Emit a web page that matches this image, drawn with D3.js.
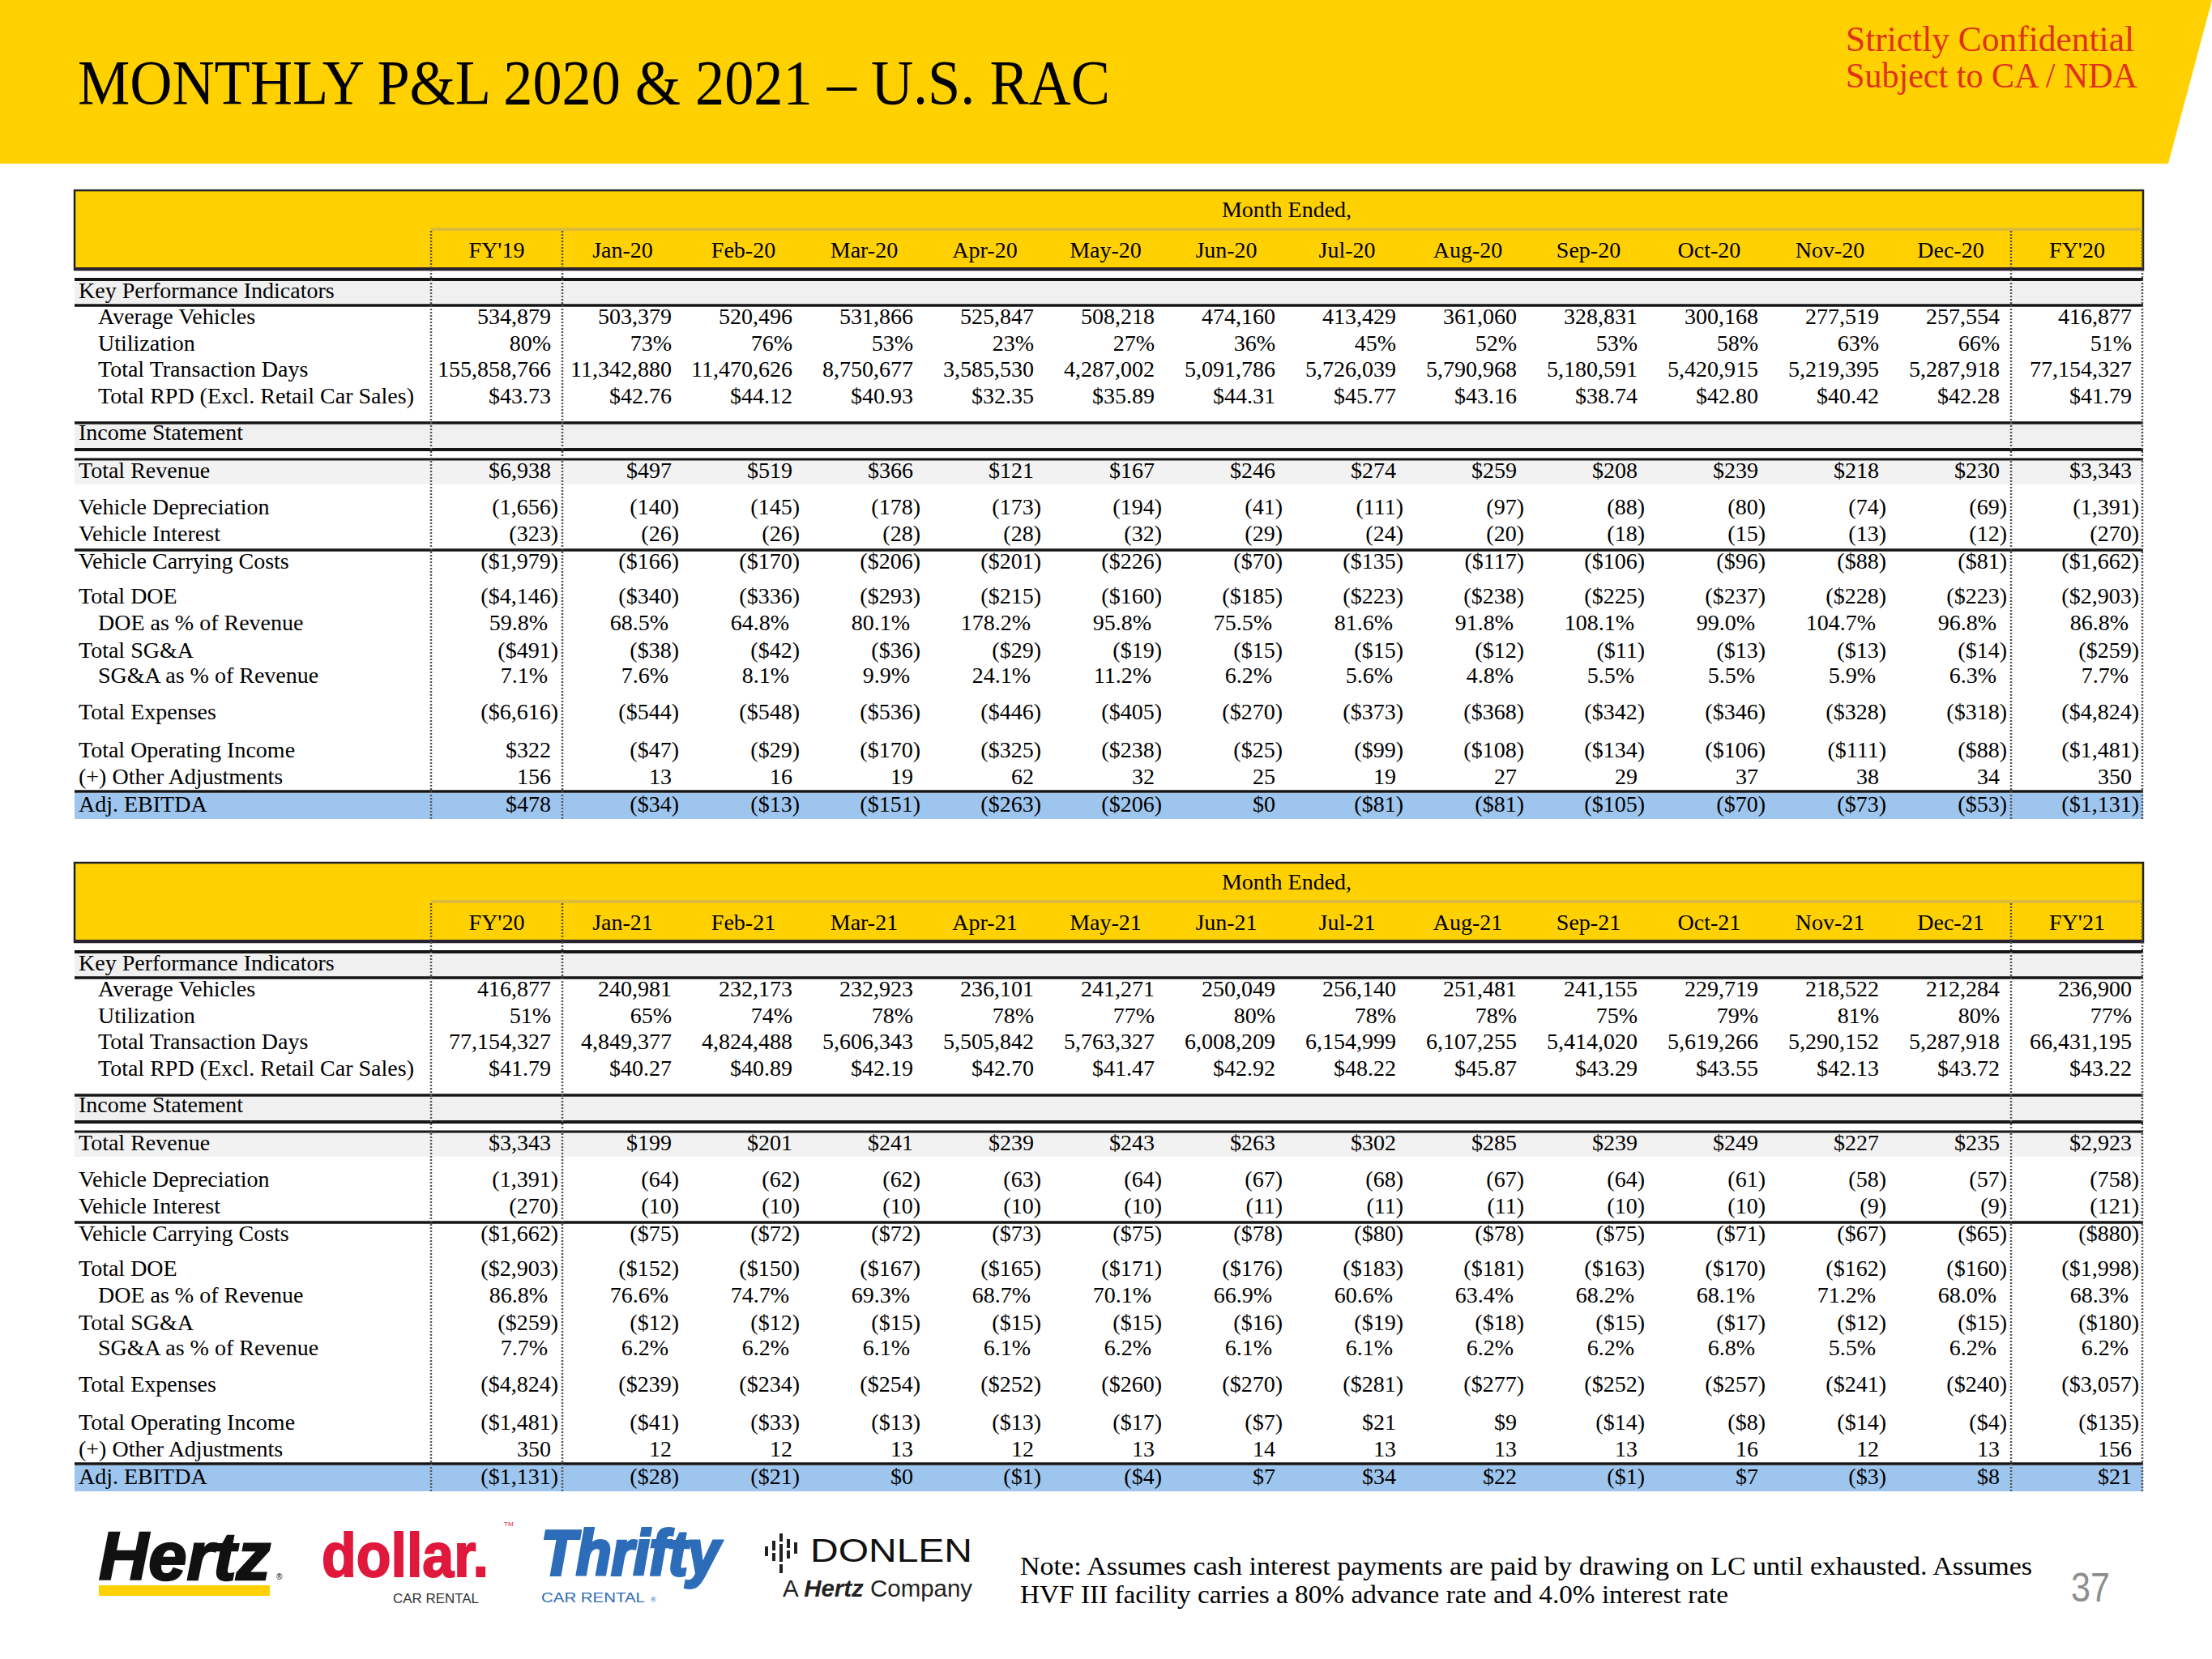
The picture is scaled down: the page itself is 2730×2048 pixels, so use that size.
<!DOCTYPE html>
<html><head><meta charset="utf-8">
<script src="https://cdn.jsdelivr.net/npm/d3@7/dist/d3.min.js"></script>
<style>html,body{margin:0;padding:0;background:#fff;}svg{display:block;}</style>
</head><body>
<script>
// ---------------- DATA ----------------
const months20 = ["Jan-20","Feb-20","Mar-20","Apr-20","May-20","Jun-20","Jul-20","Aug-20","Sep-20","Oct-20","Nov-20","Dec-20"];
const months21 = ["Jan-21","Feb-21","Mar-21","Apr-21","May-21","Jun-21","Jul-21","Aug-21","Sep-21","Oct-21","Nov-21","Dec-21"];
const fyCols20 = ["FY'19","FY'20"];
const fyCols21 = ["FY'20","FY'21"];

// 2020 block: FY'19, Jan-20 ... Dec-20, FY'20
const avgVeh20  = [534879,503379,520496,531866,525847,508218,474160,413429,361060,328831,300168,277519,257554,416877];
const util20    = [80,73,76,53,23,27,36,45,52,53,58,63,66,51];
const ttd20     = [155858766,11342880,11470626,8750677,3585530,4287002,5091786,5726039,5790968,5180591,5420915,5219395,5287918,77154327];
const rpd20     = [43.73,42.76,44.12,40.93,32.35,35.89,44.31,45.77,43.16,38.74,42.80,40.42,42.28,41.79];
const rev20     = [6938,497,519,366,121,167,246,274,259,208,239,218,230,3343];
const dep20     = [-1656,-140,-145,-178,-173,-194,-41,-111,-97,-88,-80,-74,-69,-1391];
const int20     = [-323,-26,-26,-28,-28,-32,-29,-24,-20,-18,-15,-13,-12,-270];
const vcc20     = [-1979,-166,-170,-206,-201,-226,-70,-135,-117,-106,-96,-88,-81,-1662];
const doe20     = [-4146,-340,-336,-293,-215,-160,-185,-223,-238,-225,-237,-228,-223,-2903];
const doePct20  = [59.8,68.5,64.8,80.1,178.2,95.8,75.5,81.6,91.8,108.1,99.0,104.7,96.8,86.8];
const sga20     = [-491,-38,-42,-36,-29,-19,-15,-15,-12,-11,-13,-13,-14,-259];
const sgaPct20  = [7.1,7.6,8.1,9.9,24.1,11.2,6.2,5.6,4.8,5.5,5.5,5.9,6.3,7.7];
const exp20     = [-6616,-544,-548,-536,-446,-405,-270,-373,-368,-342,-346,-328,-318,-4824];
const opInc20   = [322,-47,-29,-170,-325,-238,-25,-99,-108,-134,-106,-111,-88,-1481];
const otherAdj20= [156,13,16,19,62,32,25,19,27,29,37,38,34,350];
const ebitda20  = [478,-34,-13,-151,-263,-206,0,-81,-81,-105,-70,-73,-53,-1131];

// 2021 block: FY'20, Jan-21 ... Dec-21, FY'21
const avgVeh21  = [416877,240981,232173,232923,236101,241271,250049,256140,251481,241155,229719,218522,212284,236900];
const util21    = [51,65,74,78,78,77,80,78,78,75,79,81,80,77];
const ttd21     = [77154327,4849377,4824488,5606343,5505842,5763327,6008209,6154999,6107255,5414020,5619266,5290152,5287918,66431195];
const rpd21     = [41.79,40.27,40.89,42.19,42.70,41.47,42.92,48.22,45.87,43.29,43.55,42.13,43.72,43.22];
const rev21     = [3343,199,201,241,239,243,263,302,285,239,249,227,235,2923];
const dep21     = [-1391,-64,-62,-62,-63,-64,-67,-68,-67,-64,-61,-58,-57,-758];
const int21     = [-270,-10,-10,-10,-10,-10,-11,-11,-11,-10,-10,-9,-9,-121];
const vcc21     = [-1662,-75,-72,-72,-73,-75,-78,-80,-78,-75,-71,-67,-65,-880];
const doe21     = [-2903,-152,-150,-167,-165,-171,-176,-183,-181,-163,-170,-162,-160,-1998];
const doePct21  = [86.8,76.6,74.7,69.3,68.7,70.1,66.9,60.6,63.4,68.2,68.1,71.2,68.0,68.3];
const sga21     = [-259,-12,-12,-15,-15,-15,-16,-19,-18,-15,-17,-12,-15,-180];
const sgaPct21  = [7.7,6.2,6.2,6.1,6.1,6.2,6.1,6.1,6.2,6.2,6.8,5.5,6.2,6.2];
const exp21     = [-4824,-239,-234,-254,-252,-260,-270,-281,-277,-252,-257,-241,-240,-3057];
const opInc21   = [-1481,-41,-33,-13,-13,-17,-7,21,9,-14,-8,-14,-4,-135];
const otherAdj21= [350,12,12,13,12,13,14,13,13,13,16,12,13,156];
const ebitda21  = [-1131,-28,-21,0,-1,-4,7,34,22,-1,7,-3,8,21];

const rowLabels = ["Key Performance Indicators","Average Vehicles","Utilization","Total Transaction Days",
  "Total RPD (Excl. Retail Car Sales)","Income Statement","Total Revenue","Vehicle Depreciation","Vehicle Interest",
  "Vehicle Carrying Costs","Total DOE","DOE as % of Revenue","Total SG&A","SG&A as % of Revenue","Total Expenses",
  "Total Operating Income","(+) Other Adjustments","Adj. EBITDA"];

// ---------------- RENDER ----------------
const W = 2730, H = 2048;
const serif = "'Liberation Serif','Times New Roman',serif";
const sans = "'Liberation Sans',Arial,sans-serif";
const svg = d3.select("body").append("svg").attr("width", W).attr("height", H);
svg.append("rect").attr("width", W).attr("height", H).attr("fill", "#fff");

// banner
svg.append("path").attr("d", "M0,0H2730L2676,202H0Z").attr("fill", "#FFD100");
svg.append("text").attr("x", 96).attr("y", 128).attr("font-family", serif).attr("font-size", 78)
  .attr("textLength", 1274).attr("lengthAdjust", "spacingAndGlyphs").attr("fill", "#000")
  .text("MONTHLY P&L 2020 & 2021 \u2013 U.S. RAC");
svg.append("text").attr("x", 2278).attr("y", 63).attr("font-family", serif).attr("font-size", 44)
  .attr("textLength", 356).attr("lengthAdjust", "spacingAndGlyphs").attr("fill", "#E0301E").text("Strictly Confidential");
svg.append("text").attr("x", 2278).attr("y", 108).attr("font-family", serif).attr("font-size", 44)
  .attr("textLength", 360).attr("lengthAdjust", "spacingAndGlyphs").attr("fill", "#E0301E").text("Subject to CA / NDA");

// formats
const fInt = d3.format(",");
const fmtCount = v => fInt(v);
const fmtUtil = v => v + "%";
const fmtRpd = v => "$" + d3.format(".2f")(v);
const fmtMoney = v => v < 0 ? "($" + fInt(-v) + ")" : "$" + fInt(v);
const fmtParen = v => v < 0 ? "(" + fInt(-v) + ")" : fInt(v);
const fmtPct1 = v => d3.format(".1f")(v) + "%";

// table geometry
const X0 = 92, X1 = 2645, FYL = [532, 694], FYR = [2482, 2645];
const rowKeys = ["kpi","avgVeh","util","ttd","rpd","is","rev","dep","int","vcc","doe","doePct","sga","sgaPct","exp","opInc","other","ebitda"];
const yRow = d3.scaleOrdinal().domain(rowKeys)
  .range([133,165,198,230,263,308,355,400,433,467,510,543,577,608,653,700,733,767]);
const indentKeys = new Set(["avgVeh","util","ttd","rpd","doePct","sgaPct"]);

function drawTable(T, fyL, months, fyR, series) {
  const g = svg.append("g").attr("transform", `translate(0,${T})`);
  const xM = d3.scaleBand().domain(months).range([FYL[1], FYR[0]]);
  const cols = [fyL].concat(months).concat([fyR]);
  const colEdges = c => c === fyL ? FYL : c === fyR ? FYR : [xM(c), xM(c) + xM.bandwidth()];

  // header
  g.append("rect").attr("x", X0).attr("y", 0).attr("width", X1 - X0).attr("height", 98)
    .attr("fill", "#FFD100").attr("stroke", "#222").attr("stroke-width", 2.5);
  g.append("line").attr("x1", X0).attr("x2", X1).attr("y1", 97).attr("y2", 97).attr("stroke", "#2a2230").attr("stroke-width", 4);
  g.append("line").attr("x1", FYL[0]).attr("x2", X1 - 1).attr("y1", 48).attr("y2", 48).attr("stroke", "#DDBA3A").attr("stroke-width", 4);
  g.append("text").attr("x", (FYL[1] + FYR[0]) / 2).attr("y", 33).attr("text-anchor", "middle")
    .attr("font-family", serif).attr("font-size", 28).text("Month Ended,");
  g.selectAll("text.colhead").data(cols).join("text").attr("class", "colhead")
    .attr("x", c => d3.mean(colEdges(c))).attr("y", 83).attr("text-anchor", "middle")
    .attr("font-family", serif).attr("font-size", 28).text(c => c);

  // bands
  const bands = [[112, 141, "#F0F0F0"], [289, 318, "#F0F0F0"], [334, 363, "#F2F2F2"], [744, 776, "#9EC5EE"]];
  g.selectAll("rect.band").data(bands).join("rect").attr("class", "band")
    .attr("x", X0).attr("width", X1 - X0).attr("y", d => d[0]).attr("height", d => d[1] - d[0]).attr("fill", d => d[2]);

  // rules
  const rules = [[110, 4], [142, 3.5], [287, 3.5], [320, 4], [332, 3], [444, 3.5], [742, 3.5]];
  g.selectAll("line.rule").data(rules).join("line").attr("class", "rule")
    .attr("x1", X0).attr("x2", X1).attr("y1", d => d[0]).attr("y2", d => d[0])
    .attr("stroke", "#151515").attr("stroke-width", d => d[1]);

  // dotted verticals
  g.selectAll("line.vdot").data([FYL[0], FYL[1], FYR[0], FYR[1] - 1]).join("line").attr("class", "vdot")
    .attr("x1", d => d).attr("x2", d => d).attr("y1", 50).attr("y2", 776)
    .attr("stroke", "#555").attr("stroke-width", 2.5).attr("stroke-dasharray", "2,2");

  // labels
  g.selectAll("text.lbl").data(rowKeys).join("text").attr("class", "lbl")
    .attr("x", k => indentKeys.has(k) ? 121 : 97).attr("y", k => yRow(k))
    .attr("font-family", serif).attr("font-size", 28).text((k, i) => rowLabels[i]);

  // values
  series.forEach(s => {
    g.selectAll(null).data(s.values).join("text")
      .attr("x", (v, i) => {
        const right = colEdges(cols[i])[1];
        if (s.pct) return right - 18;
        return v < 0 && s.paren ? right - 5 : right - 14;
      })
      .attr("y", yRow(s.key)).attr("text-anchor", "end")
      .attr("font-family", serif).attr("font-size", 28).text(v => s.fmt(v));
  });
}

function seriesFor(d) {
  return [
    {key: "avgVeh", values: d.avgVeh, fmt: fmtCount},
    {key: "util", values: d.util, fmt: fmtUtil},
    {key: "ttd", values: d.ttd, fmt: fmtCount},
    {key: "rpd", values: d.rpd, fmt: fmtRpd},
    {key: "rev", values: d.rev, fmt: fmtMoney, paren: true},
    {key: "dep", values: d.dep, fmt: fmtParen, paren: true},
    {key: "int", values: d.int, fmt: fmtParen, paren: true},
    {key: "vcc", values: d.vcc, fmt: fmtMoney, paren: true},
    {key: "doe", values: d.doe, fmt: fmtMoney, paren: true},
    {key: "doePct", values: d.doePct, fmt: fmtPct1, pct: true},
    {key: "sga", values: d.sga, fmt: fmtMoney, paren: true},
    {key: "sgaPct", values: d.sgaPct, fmt: fmtPct1, pct: true},
    {key: "exp", values: d.exp, fmt: fmtMoney, paren: true},
    {key: "opInc", values: d.opInc, fmt: fmtMoney, paren: true},
    {key: "other", values: d.other, fmt: fmtParen, paren: true},
    {key: "ebitda", values: d.ebitda, fmt: fmtMoney, paren: true}
  ];
}

drawTable(235, fyCols20[0], months20, fyCols20[1], seriesFor({avgVeh: avgVeh20, util: util20, ttd: ttd20, rpd: rpd20,
  rev: rev20, dep: dep20, int: int20, vcc: vcc20, doe: doe20, doePct: doePct20, sga: sga20, sgaPct: sgaPct20,
  exp: exp20, opInc: opInc20, other: otherAdj20, ebitda: ebitda20}));
drawTable(1065, fyCols21[0], months21, fyCols21[1], seriesFor({avgVeh: avgVeh21, util: util21, ttd: ttd21, rpd: rpd21,
  rev: rev21, dep: dep21, int: int21, vcc: vcc21, doe: doe21, doePct: doePct21, sga: sga21, sgaPct: sgaPct21,
  exp: exp21, opInc: opInc21, other: otherAdj21, ebitda: ebitda21}));

// ---------------- LOGOS ----------------
const lg = svg.append("g");
lg.append("text").attr("x", 122).attr("y", 1950).attr("font-family", sans).attr("font-weight", "bold").attr("font-style", "italic")
  .attr("font-size", 84).attr("textLength", 212).attr("lengthAdjust", "spacingAndGlyphs")
  .attr("fill", "#111").attr("stroke", "#111").attr("stroke-width", 2.5).text("Hertz");
lg.append("text").attr("x", 341).attr("y", 1950).attr("font-family", sans).attr("font-size", 10).text("\u00AE");
lg.append("rect").attr("x", 122).attr("y", 1957).attr("width", 211).attr("height", 13).attr("fill", "#FFD100");

lg.append("text").attr("x", 397).attr("y", 1946).attr("font-family", sans).attr("font-weight", "bold")
  .attr("font-size", 76).attr("textLength", 206).attr("lengthAdjust", "spacingAndGlyphs")
  .attr("fill", "#E0183C").attr("stroke", "#E0183C").attr("stroke-width", 2).text("dollar.");
lg.append("text").attr("x", 622).attr("y", 1884).attr("font-family", sans).attr("font-size", 8).attr("fill", "#E0183C").text("TM");
lg.append("text").attr("x", 485).attr("y", 1979).attr("font-family", sans).attr("font-size", 16)
  .attr("textLength", 106).attr("lengthAdjust", "spacingAndGlyphs").attr("fill", "#333").text("CAR RENTAL");

lg.append("text").attr("x", 668).attr("y", 1944).attr("font-family", sans).attr("font-weight", "bold").attr("font-style", "italic")
  .attr("font-size", 78).attr("textLength", 220).attr("lengthAdjust", "spacingAndGlyphs")
  .attr("fill", "#2C6CB8").attr("stroke", "#2C6CB8").attr("stroke-width", 4).text("Thrifty");
lg.append("text").attr("x", 668).attr("y", 1978).attr("font-family", sans).attr("font-size", 17)
  .attr("textLength", 128).attr("lengthAdjust", "spacingAndGlyphs").attr("fill", "#2C6CB8").text("CAR RENTAL");
lg.append("text").attr("x", 803).attr("y", 1978).attr("font-family", sans).attr("font-size", 9).attr("fill", "#2C6CB8").text("\u00AE");

// Donlen icon
const dbars = [[944,1909,1921],[953,1902,1914],[953,1917,1927],[962,1893,1903],[962,1906,1928],[962,1931,1942],
  [971,1900,1911],[971,1914,1924],[980,1904,1918]];
lg.selectAll("rect.dbar").data(dbars).join("rect").attr("class", "dbar")
  .attr("x", d => d[0]).attr("y", d => d[1]).attr("width", 4).attr("height", d => d[2] - d[1]).attr("fill", "#222");
lg.append("text").attr("x", 1000).attr("y", 1928).attr("font-family", sans).attr("font-size", 40)
  .attr("textLength", 200).attr("lengthAdjust", "spacingAndGlyphs").attr("fill", "#111").text("DONLEN");
const ahc = lg.append("text").attr("x", 966).attr("y", 1971).attr("font-family", sans).attr("font-size", 29)
  .attr("textLength", 234).attr("lengthAdjust", "spacingAndGlyphs").attr("fill", "#222");
ahc.append("tspan").text("A ");
ahc.append("tspan").attr("font-weight", "bold").attr("font-style", "italic").text("Hertz");
ahc.append("tspan").text(" Company");

// note & page number
svg.append("text").attr("x", 1259).attr("y", 1944).attr("font-family", serif).attr("font-size", 31)
  .attr("textLength", 1249).attr("lengthAdjust", "spacingAndGlyphs")
  .text("Note: Assumes cash interest payments are paid by drawing on LC until exhausted. Assumes");
svg.append("text").attr("x", 1259).attr("y", 1979).attr("font-family", serif).attr("font-size", 31)
  .attr("textLength", 874).attr("lengthAdjust", "spacingAndGlyphs")
  .text("HVF III facility carries a 80% advance rate and 4.0% interest rate");
svg.append("text").attr("x", 2556).attr("y", 1977).attr("font-family", sans).attr("font-size", 50)
  .attr("textLength", 48).attr("lengthAdjust", "spacingAndGlyphs").attr("fill", "#8E8E8E").text("37");
</script>
</body></html>
